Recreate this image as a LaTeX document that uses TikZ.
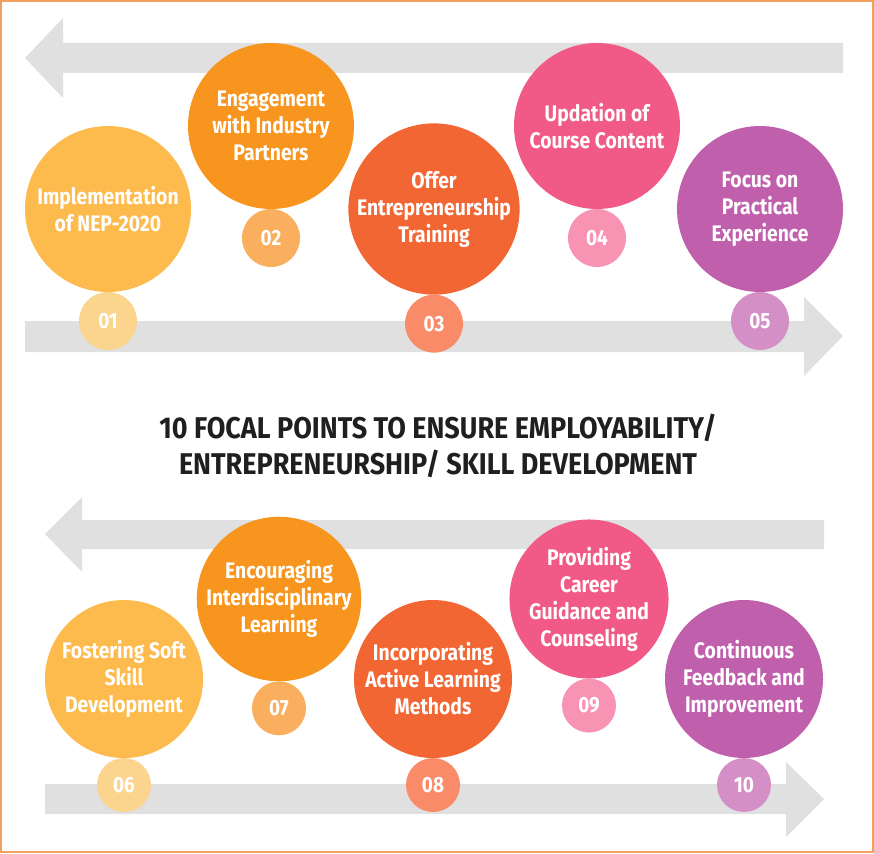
\documentclass[tikz,border=0pt]{standalone}
\usepackage{fontspec}
\setmainfont{Fira Sans}[FakeStretch=0.86]
\newfontfamily\titlefont{Fira Sans}[FakeStretch=0.9]
\usetikzlibrary{positioning}

\definecolor{frameorange}{HTML}{F2A05E}
\definecolor{bandgray}{HTML}{E0E0E0}
\definecolor{ptyellow}{HTML}{FDBA4D}
\definecolor{ptorange}{HTML}{F7951E}
\definecolor{ptred}{HTML}{F26634}
\definecolor{ptpink}{HTML}{F15A87}
\definecolor{ptpurple}{HTML}{C060AC}
\definecolor{ltyellow}{HTML}{FBD48E}
\definecolor{ltorange}{HTML}{F9AF5E}
\definecolor{ltred}{HTML}{F98B68}
\definecolor{ltpink}{HTML}{F893B3}
\definecolor{ltpurple}{HTML}{D58FC7}

\begin{document}
\begin{tikzpicture}[
	x=1pt,
	y=-1pt,
	bigdot/.style={circle,minimum size=166pt,inner sep=0pt,outer sep=0pt,
		text=white,align=center,font=\bfseries\fontsize{22.5}{27}\selectfont},
	numdot/.style={circle,minimum size=58pt,inner sep=0pt,outer sep=0pt,
		text=white,font=\bfseries\fontsize{22}{26}\selectfont},
	lowdot/.style={bigdot,minimum size=158pt},
	lownum/.style={numdot,minimum size=54pt},
	band/.style={fill=bandgray}
]
\useasboundingbox (0,0) rectangle (874,853);
\draw[frameorange,line width=1.5pt] (1,1) rectangle (873,852);

% upper arrows
\fill[band] (843,43) -- (63,43) -- (63,18) -- (25,58) -- (63,98) -- (63,73) -- (843,73) -- cycle;
\fill[band] (25,321) -- (804,321) -- (804,297) -- (843,336) -- (804,376) -- (804,352) -- (25,352) -- cycle;

% lower arrows
\fill[band] (824,520) -- (82,520) -- (82,497) -- (45,534) -- (82,572) -- (82,549) -- (824,549) -- cycle;
\fill[band] (45,784) -- (786,784) -- (786,762) -- (824,799) -- (786,837) -- (786,814) -- (45,814) -- cycle;

% upper row
\node[bigdot,fill=ptyellow] (p1) at (108,209) {Implementation\\of NEP-2020};
\node[bigdot,fill=ptorange] (p2) at (271,126) {Engagement\\with Industry\\Partners};
\node[bigdot,fill=ptred]    (p3) at (434,209) {Offer\\Entrepreneurship\\Training};
\node[bigdot,fill=ptpink]   (p4) at (597,126) {Updation of\\Course Content};
\node[bigdot,fill=ptpurple] (p5) at (760,209) {Focus on\\Practical\\Experience};

\node[numdot,fill=ltyellow] (n1) [below=0pt of p1] {01};
\node[numdot,fill=ltorange] (n2) [below=0pt of p2] {02};
\node[numdot,fill=ltred]    (n3) [below=0pt of p3] {03};
\node[numdot,fill=ltpink]   (n4) [below=0pt of p4] {04};
\node[numdot,fill=ltpurple] (n5) [below=0pt of p5] {05};

% title
\node[align=center,text=black!88,font=\titlefont\bfseries\fontsize{30}{36}\selectfont] (title) at (438,446)
	{10 FOCAL POINTS TO ENSURE EMPLOYABILITY/\\ENTREPRENEURSHIP/ SKILL DEVELOPMENT};

% lower row
\node[lowdot,fill=ptyellow] (p6)  at (124,679) {Fostering Soft\\Skill\\Development};
\node[lowdot,fill=ptorange] (p7)  at (279,599) {Encouraging\\Interdisciplinary\\Learning};
\node[lowdot,fill=ptred]    (p8)  at (433,679) {Incorporating\\Active Learning\\Methods};
\node[lowdot,fill=ptpink]   (p9)  at (589,599) {Providing\\Career\\Guidance and\\Counseling};
\node[lowdot,fill=ptpurple] (p10) at (744,679) {Continuous\\Feedback and\\Improvement};

\node[lownum,fill=ltyellow] (n6)  [below=0pt of p6]  {06};
\node[lownum,fill=ltorange] (n7)  [below=0pt of p7]  {07};
\node[lownum,fill=ltred]    (n8)  [below=0pt of p8]  {08};
\node[lownum,fill=ltpink]   (n9)  [below=0pt of p9]  {09};
\node[lownum,fill=ltpurple] (n10) [below=0pt of p10] {10};
\end{tikzpicture}
\end{document}
